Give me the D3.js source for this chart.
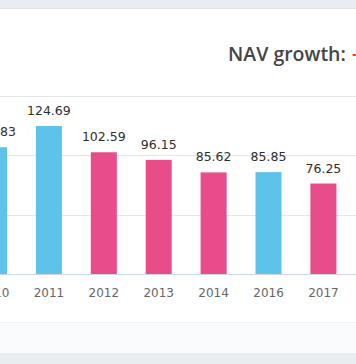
<!DOCTYPE html>
<html>
<head>
<meta charset="utf-8">
<script src="https://cdn.jsdelivr.net/npm/d3@7"></script>
<style>
  html, body { margin: 0; padding: 0; background: #fff; overflow: hidden; }
  svg { display: block; }
</style>
</head>
<body>
<svg id="chart" width="356" height="364"></svg>
<script>
// Data
const years = ["2010", "2011", "2012", "2013", "2014", "2016", "2017"];
const navValues = [106.83, 124.69, 102.59, 96.15, 85.62, 85.85, 76.25];
const growthUp = [true, true, false, false, false, true, false];
const yTicks = [0, 50, 100, 150];
const titleText = "NAV growth:";

const W = 356, H = 364;
const svg = d3.select("#chart");

// Panel frame
svg.append("rect").attr("x", 0).attr("y", 0).attr("width", W).attr("height", H).attr("fill", "#ffffff");
svg.append("rect").attr("x", 0).attr("y", 0).attr("width", W).attr("height", 8).attr("fill", "#e9edf2");
svg.append("line").attr("x1", 0).attr("x2", W).attr("y1", 8.5).attr("y2", 8.5).attr("stroke", "#dfe4ea");
svg.append("rect").attr("x", 0).attr("y", 322).attr("width", W).attr("height", 31).attr("fill", "#fafbfc");
svg.append("line").attr("x1", 0).attr("x2", W).attr("y1", 322.5).attr("y2", 322.5).attr("stroke", "#f0f2f4");
svg.append("rect").attr("x", 0).attr("y", 353).attr("width", W).attr("height", H - 353).attr("fill", "#e9edf2");

// Title
svg.append("text")
  .attr("x", 228).attr("y", 61)
  .attr("font-family", "'Open Sans', sans-serif")
  .attr("font-size", 19.5).attr("font-weight", 600)
  .attr("fill", "#454545")
  .text(titleText);
svg.append("text")
  .attr("x", 352).attr("y", 60)
  .attr("font-family", "'Open Sans', sans-serif")
  .attr("font-size", 19.5).attr("font-weight", 600)
  .attr("fill", "#e8402f")
  .text("-");

// Scales
const x = d3.scaleBand().domain(years).range([-47.9, 365.3]).paddingInner(0.526).paddingOuter(0.526);
const y = d3.scaleLinear().domain([0, 150]).range([274, 96]);

// Grid
svg.append("g").selectAll("line").data(yTicks.slice(1)).join("line")
  .attr("x1", 0).attr("x2", W)
  .attr("y1", d => Math.round(y(d)) + 0.5).attr("y2", d => Math.round(y(d)) + 0.5)
  .attr("stroke", "#e6e6e6");

// Bars
svg.append("g").selectAll("rect").data(years).join("rect")
  .attr("x", d => x(d))
  .attr("width", x.bandwidth())
  .attr("y", (d, i) => y(navValues[i]))
  .attr("height", (d, i) => y(0) - y(navValues[i]))
  .attr("fill", (d, i) => growthUp[i] ? "#5ec3e9" : "#e84c89");

// Baseline axis
svg.append("line").attr("x1", 0).attr("x2", W).attr("y1", 274.5).attr("y2", 274.5).attr("stroke", "#ccd6eb");

// Value labels
svg.append("g").selectAll("text").data(years).join("text")
  .attr("x", d => x(d) + x.bandwidth() / 2)
  .attr("y", (d, i) => y(navValues[i]) - 11)
  .attr("text-anchor", "middle")
  .attr("font-family", "'DejaVu Sans', sans-serif")
  .attr("font-size", 12.5)
  .attr("fill", "#2e2e2e")
  .text((d, i) => navValues[i].toFixed(2));

// X axis labels
const xAxis = d3.axisBottom(x).tickSize(0).tickPadding(0);
const gx = svg.append("g").attr("transform", "translate(0,274)").call(xAxis);
gx.select(".domain").remove();
gx.selectAll("text")
  .attr("y", 23).attr("dy", 0)
  .attr("font-family", "'DejaVu Sans', sans-serif")
  .attr("font-size", 12)
  .attr("fill", "#666");
</script>
</body>
</html>
